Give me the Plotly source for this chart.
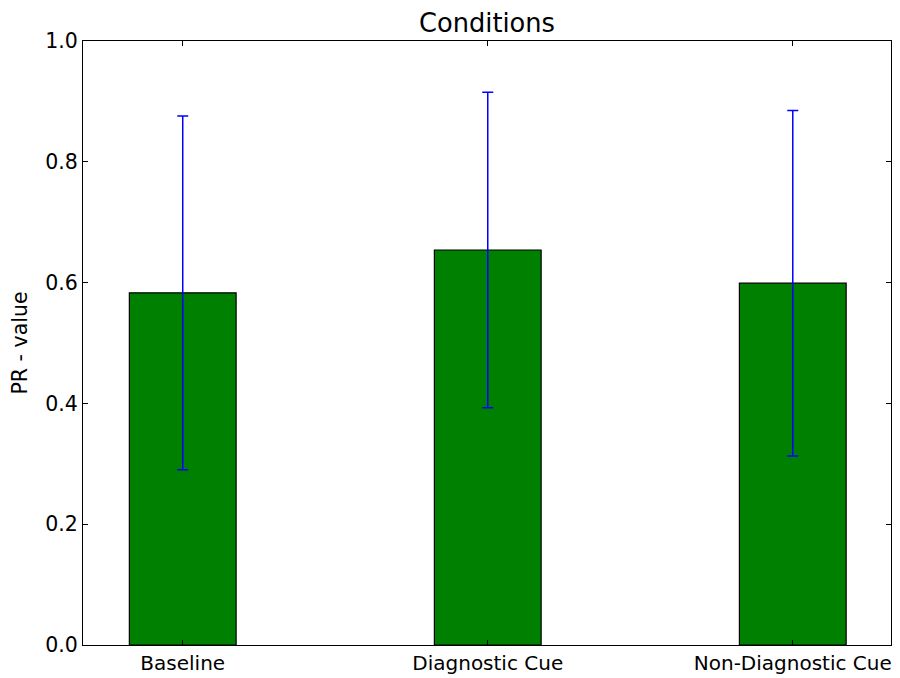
import plotly.graph_objects as go

categories = ["Baseline", "Diagnostic Cue", "Non-Diagnostic Cue"]
values = [0.583, 0.654, 0.599]
errors = [0.293, 0.261, 0.286]
positions = [0, 1, 2]

fig = go.Figure()
fig.add_trace(go.Bar(
    x=positions, y=values, width=0.35,
    marker=dict(color="#008000", line=dict(color="black", width=1.2)),
    error_y=dict(type="data", array=errors, visible=True, color="#0000ff", thickness=1.5, width=5.5),
))

font = dict(family="DejaVu Sans", size=20.5, color="black")
xfont = dict(family="DejaVu Sans", size=20, color="black")
fig.update_layout(
    width=892, height=670,
    margin=dict(l=75, r=9, t=33, b=33, autoexpand=False),
    plot_bgcolor="white", paper_bgcolor="white",
    font=font,
    showlegend=False,
    title=dict(text="Conditions", x=0.5, xref="paper", xanchor="center", y=1 - 15 / 670, yanchor="middle",
               yref="container", font=dict(family="DejaVu Sans", size=25.7, color="black")),
    xaxis=dict(range=[-0.327, 2.322], tickvals=positions, ticktext=categories,
               ticks="inside", ticklen=5, tickcolor="black", showline=True, linecolor="black",
               linewidth=1, mirror="ticks", showgrid=False, zeroline=False, tickfont=xfont),
    yaxis=dict(range=[0, 1.0], tickvals=[0, 0.2, 0.4, 0.6, 0.8, 1.0],
               ticktext=["0.0", "0.2", "0.4", "0.6", "0.8", "1.0"],
               ticks="inside", ticklen=5, tickcolor="black", showline=True, linecolor="black",
               linewidth=1, mirror="ticks", showgrid=False, zeroline=False, tickfont=font,
               title=dict(text="PR - value", font=font, standoff=14)),
)
fig.write_html("out.html")
